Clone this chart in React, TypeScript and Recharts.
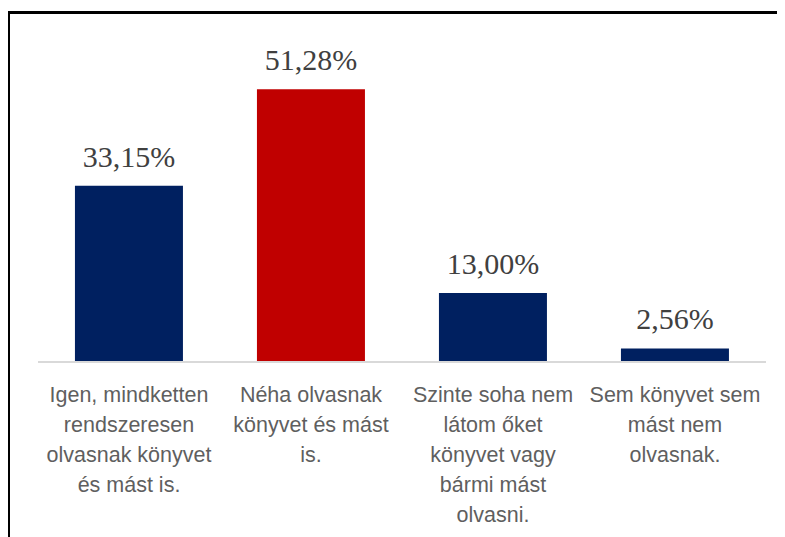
import { BarChart, Bar, XAxis, YAxis, Cell, LabelList } from 'recharts'

const categories = [
  'Igen, mindketten\nrendszeresen\nolvasnak könyvet\nés mást is.',
  'Néha olvasnak\nkönyvet és mást\nis.',
  'Szinte soha nem\nlátom őket\nkönyvet vagy\nbármi mást\nolvasni.',
  'Sem könyvet sem\nmást nem\nolvasnak.',
]
const values = [33.15, 51.28, 13.0, 2.56]
const barColors = ['#002060', '#C00000', '#002060', '#002060']

const chartData = categories.map((name, i) => ({ name, value: values[i] }))

const formatPct = (v: number) => v.toFixed(2).replace('.', ',') + '%'

function CategoryTick({ x, y, payload }: any) {
  const lines = String(payload.value).split('\n')
  return (
    <g transform={`translate(${x},${y})`}>
      <text
        textAnchor="middle"
        fill="#5f5f5f"
        fontFamily="'Liberation Sans', Arial, sans-serif"
        fontSize={21.5}
      >
        {lines.map((line, i) => (
          <tspan key={i} x={0} y={40 + i * 30}>
            {line}
          </tspan>
        ))}
      </text>
    </g>
  )
}

function ValueLabel({ x, y, width, value }: any) {
  return (
    <text
      x={x + width / 2}
      y={y - 19}
      textAnchor="middle"
      fill="#404040"
      fontFamily="'Liberation Serif', 'Times New Roman', serif"
      fontSize={30}
    >
      {formatPct(value)}
    </text>
  )
}

export default function App() {
  return (
    <div style={{ position: 'relative', width: 777, height: 529, overflow: 'hidden', background: '#fff' }}>
      <div
        style={{
          position: 'absolute',
          left: -1,
          top: 3,
          width: 900,
          height: 900,
          borderLeft: '3px solid #000',
          borderTop: '3px solid #000',
        }}
      />
      <div style={{ position: 'absolute', left: 0, top: 0 }}>
        <BarChart
          width={777}
          height={529}
          data={chartData}
          margin={{ top: 35, right: 19, left: 30, bottom: 5 }}
          barCategoryGap="20.3%"
        >
          <XAxis
            dataKey="name"
            height={170}
            tickLine={false}
            tickSize={0}
            tickMargin={0}
            interval={0}
            stroke="#d9d9d9"
            strokeWidth={2}
            tick={<CategoryTick />}
          />
          <YAxis hide domain={[0, 60]} />
          <Bar dataKey="value" isAnimationActive={false}>
            {chartData.map((_, i) => (
              <Cell key={i} fill={barColors[i]} />
            ))}
            <LabelList dataKey="value" content={<ValueLabel />} />
          </Bar>
        </BarChart>
      </div>
    </div>
  )
}
